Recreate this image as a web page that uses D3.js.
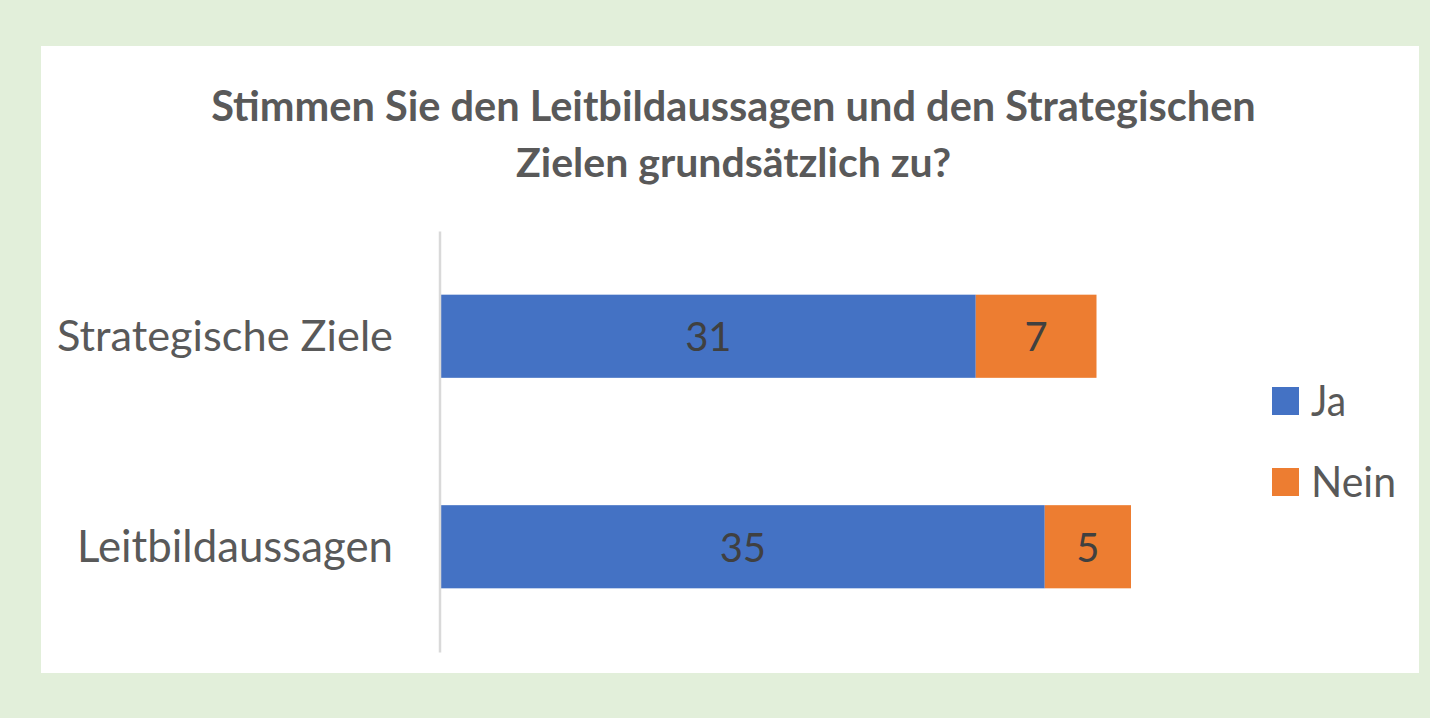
<!DOCTYPE html>
<html><head><meta charset="utf-8">
<script src="https://cdn.jsdelivr.net/npm/d3@7"></script>
<style>html,body{margin:0;padding:0;background:#e2efda;}svg{display:block;}</style>
</head><body>
<script>
const categories = ["Strategische Ziele", "Leitbildaussagen"];
const seriesNames = ["Ja", "Nein"];
const jaValues = [31, 35];
const neinValues = [7, 5];
const titleLines = ["Stimmen Sie den Leitbildaussagen und den Strategischen", "Zielen grundsätzlich zu?"];
const colors = ["#4472c4", "#ed7d31"];

const W = 1430, H = 718;
const FONT = "Lato, 'Open Sans', sans-serif";
const svg = d3.select("body").append("svg").attr("width", W).attr("height", H);
svg.append("rect").attr("width", W).attr("height", H).attr("fill", "#e2efda");
svg.append("rect").attr("x", 41).attr("y", 46).attr("width", 1378).attr("height", 627).attr("fill", "#ffffff");

// set size by cap height, then fit width (only compress if wider)
function fit(sel, targetW, size) {
  sel.attr("font-size", size);
  const w = sel.node().getComputedTextLength();
  if (w > targetW) sel.attr("textLength", targetW).attr("lengthAdjust", "spacingAndGlyphs");
  else sel.attr("font-size", size * targetW / w);
}

// Title
const titleSpec = [{y: 121, w: 1045}, {y: 177, w: 435}];
titleLines.forEach((t, i) => {
  const el = svg.append("text").attr("x", 733.5).attr("y", titleSpec[i].y)
    .attr("text-anchor", "middle").attr("font-family", FONT).attr("font-weight", "bold")
    .attr("fill", "#595959").text(t);
  fit(el, titleSpec[i].w, 41);
});

const data = categories.map((c, i) => ({cat: c, Ja: jaValues[i], Nein: neinValues[i]}));
const stack = d3.stack().keys(seriesNames)(data);

const x = d3.scaleLinear().domain([0, 40]).range([441, 1131]);
const y = d3.scaleBand().domain(categories).range([231, 652]).paddingInner(0.605).paddingOuter(0.3025);

// bars
stack.forEach((s, si) => {
  const g = svg.append("g");
  g.selectAll("rect").data(s).join("rect")
    .attr("x", d => x(d[0])).attr("y", d => y(d.data.cat))
    .attr("width", d => x(d[1]) - x(d[0])).attr("height", y.bandwidth())
    .attr("fill", colors[si]);
  g.selectAll("text").data(s).join("text")
    .attr("x", d => (x(d[0]) + x(d[1])) / 2)
    .attr("y", d => y(d.data.cat) + y.bandwidth() / 2 + 15)
    .attr("text-anchor", "middle").attr("font-family", FONT).attr("font-size", 40)
    .attr("fill", "#404040").text(d => d[1] - d[0]);
});

// axis
const yAxis = svg.append("g").attr("transform", "translate(439.5,0)").call(d3.axisLeft(y).tickSize(0).tickPadding(0));
yAxis.select(".domain").attr("stroke", "#d9d9d9").attr("stroke-width", 2.5);
yAxis.selectAll(".tick text").remove();
const labelW = {"Strategische Ziele": 336, "Leitbildaussagen": 316};
categories.forEach(c => {
  const el = svg.append("text").attr("x", 393).attr("y", y(c) + y.bandwidth() / 2 + 15)
    .attr("text-anchor", "end").attr("font-family", FONT).attr("fill", "#595959").text(c);
  fit(el, labelW[c], 43);
});

// legend
const legend = svg.append("g");
const legY = [387, 468];
const legW = [35, 85];
seriesNames.forEach((n, i) => {
  legend.append("rect").attr("x", 1272).attr("y", legY[i]).attr("width", 27).attr("height", 28).attr("fill", colors[i]);
  const el = legend.append("text").attr("x", 1311).attr("y", legY[i] + 28.5)
    .attr("font-family", FONT).attr("fill", "#595959").text(n);
  fit(el, legW[i], 42);
});
</script>
</body></html>
